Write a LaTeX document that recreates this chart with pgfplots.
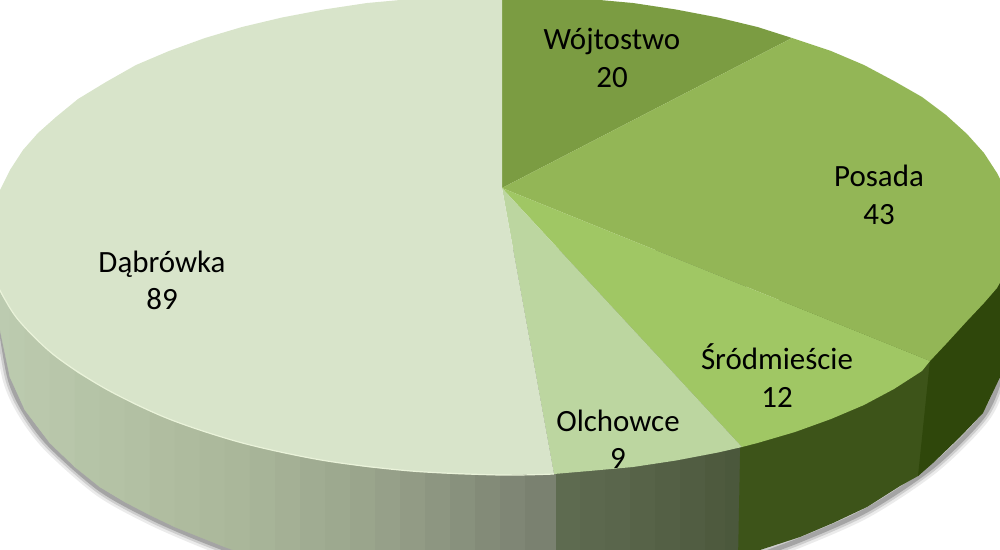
\documentclass[border=0pt]{standalone}
\usepackage{pgfplots}
\pgfplotsset{compat=1.18}
\usepackage{fontspec}
\setmainfont{Carlito}
\newcommand{\strip}[7]{\addplot[fill={rgb,255:red,#5;green,#6;blue,#7},draw={rgb,255:red,#5;green,#6;blue,#7},line width=0.3pt] coordinates {(#1,250) (#3,250) (#3,#4) (#1,#2)} -- cycle;}
\definecolor{cDab}{RGB}{216,228,202}
\definecolor{cOlc}{RGB}{188,214,160}
\definecolor{cSro}{RGB}{160,199,100}
\definecolor{cPos}{RGB}{147,182,86}
\definecolor{cWoj}{RGB}{123,156,66}
\definecolor{cSideS}{RGB}{61,84,25}
\definecolor{cSideP}{RGB}{47,71,11}
\begin{document}
\begin{tikzpicture}
\useasboundingbox (0,0) rectangle (750pt,412.5pt);
\begin{axis}[at={(0,0)},anchor=south west,scale only axis,width=750pt,height=412.5pt,
  xmin=0,xmax=1000,ymin=0,ymax=550,y dir=reverse,hide axis,clip=true]
% shadow under the side
\addplot[smooth,black,line width=11pt,opacity=0.08] coordinates {(-2,300) (0,322) (10,379) (25,412) (50,445) (100,489) (150,517) (200,539) (260,562)};
\addplot[smooth,black,line width=11pt,opacity=0.08] coordinates {(1006,340) (1001,375) (983,416) (933,466) (867,510) (800,540) (740,562)};
\addplot[smooth,black,line width=7pt,opacity=0.13] coordinates {(-2,300) (0,322) (10,379) (25,412) (50,445) (100,489) (150,517) (200,539) (260,562)};
\addplot[smooth,black,line width=7pt,opacity=0.13] coordinates {(1006,340) (1001,375) (983,416) (933,466) (867,510) (800,540) (740,562)};
\addplot[smooth,black,line width=3.5pt,opacity=0.2] coordinates {(-2,300) (0,322) (10,379) (25,412) (50,445) (100,489) (150,517) (200,539) (260,562)};
\addplot[smooth,black,line width=3.5pt,opacity=0.2] coordinates {(1006,340) (1001,375) (983,416) (933,466) (867,510) (800,540) (740,562)};
% side of Dabrowka
\strip{-2}{320}{10}{377}{188}{203}{176}
\strip{10}{377}{25}{410}{187}{202}{174}
\strip{25}{410}{50}{443}{186}{200}{172}
\strip{50}{443}{75}{467}{184}{198}{170}
\strip{75}{467}{100}{487}{181}{196}{167}
\strip{100}{487}{125}{502}{180}{194}{165}
\strip{125}{502}{150}{515}{178}{192}{163}
\strip{150}{515}{175}{527}{176}{189}{160}
\strip{175}{527}{200}{537}{174}{187}{158}
\strip{200}{537}{225}{547}{172}{185}{156}
\strip{225}{547}{250}{556}{170}{183}{154}
\strip{250}{556}{275}{600}{167}{180}{152}
\strip{275}{600}{300}{600}{164}{176}{149}
\strip{300}{600}{325}{600}{160}{172}{146}
\strip{325}{600}{350}{600}{157}{169}{143}
\strip{350}{600}{375}{600}{154}{165}{140}
\strip{375}{600}{400}{600}{150}{160}{137}
\strip{400}{600}{425}{600}{146}{155}{133}
\strip{425}{600}{450}{600}{141}{150}{129}
\strip{450}{600}{475}{600}{136}{145}{125}
\strip{475}{600}{500}{600}{131}{139}{120}
\strip{500}{600}{525}{600}{127}{134}{117}
\strip{525}{600}{556}{600}{122}{129}{112}
% side of Olchowce
\strip{556}{600}{580}{600}{94}{107}{80}
\strip{580}{600}{605}{600}{92}{104}{78}
\strip{605}{600}{630}{600}{90}{102}{76}
\strip{630}{600}{655}{600}{87}{99}{72}
\strip{655}{600}{680}{600}{84}{96}{69}
\strip{680}{600}{705}{600}{81}{93}{66}
\strip{705}{600}{725}{600}{78}{90}{62}
\strip{725}{600}{745}{600}{75}{88}{60}
% side of Srodmiescie and Posada
\addplot[fill=cSideS,draw=none] coordinates {(743,300) (935,300) (935,460) (918,476) (900,486) (867,507) (833,523) (800,537) (760,550) (738,560)} -- cycle;
\addplot[fill=cSideP,draw=none] coordinates {(932,250) (1010,250) (1006,330) (1002,373) (983,413) (960,437) (933,463) (918,476) (930,360)} -- cycle;
% top face
\addplot[fill=cWoj,draw=none] coordinates {(502,188) (502,-5) (545,-4) (589,-1) (633,3) (676,9.5) (718,17.5) (757.5,27) (792,38)} -- cycle;
\addplot[fill=cPos,draw=none] coordinates {(502,188) (792,38) (831,51) (864,65) (894,81) (922,97) (946,115) (967,134) (984,153) (997,173) (1007,193) (1013,214) (1015,235) (1012,250) (1007,270) (997,288) (984,303) (967,321) (946,344) (930,361)} -- cycle;
\addplot[fill=cSro,draw=none] coordinates {(502,188) (930,361) (922,371) (894,389) (864,405) (831,419) (795,432) (757.5,443) (742,447)} -- cycle;
\addplot[fill=cOlc,draw=none] coordinates {(502,188) (742,447) (718,452.5) (676,460.5) (633,467) (589,471) (554,474)} -- cycle;
\addplot[fill=cDab,draw=none] coordinates {(502,188) (554,474) (545,474) (500,475) (455,474) (411,471) (367,467) (324,460.5) (282,452.5) (242.5,443) (205,432) (169,419) (136,405) (106,389) (78,373) (54,355) (33,336) (16,317) (3,297) (-7,277) (-13,256) (-15,235) (-13,214) (-5,203) (0,190) (10,170) (23,150) (38,133) (56,117) (78,99) (106,82) (136,65) (169,51) (205,38) (242,27) (282,17.5) (324,9.5) (367,3) (411,-1) (455,-4) (502,-5)} -- cycle;
% light lip on the front edge
\addplot[smooth,draw={rgb,255:red,234;green,243;blue,218},line width=0.9pt] coordinates {(554,474) (500,475) (411,471) (324,460.5) (242.5,443) (169,419) (106,389) (54,355) (16,317) (-7,277)};
\node[anchor=base,inner sep=0pt,font=\fontsize{23.2}{27}\selectfont] at (axis cs:612,49) {Wójtostwo};
\node[anchor=base,inner sep=0pt,font=\fontsize{23.2}{27}\selectfont] at (axis cs:612,87) {20};
\node[anchor=base,inner sep=0pt,font=\fontsize{23.2}{27}\selectfont] at (axis cs:879,186) {Posada};
\node[anchor=base,inner sep=0pt,font=\fontsize{23.2}{27}\selectfont] at (axis cs:879,224) {43};
\node[anchor=base,inner sep=0pt,font=\fontsize{23.2}{27}\selectfont] at (axis cs:777,369) {Śródmieście};
\node[anchor=base,inner sep=0pt,font=\fontsize{23.2}{27}\selectfont] at (axis cs:777,407) {12};
\node[anchor=base,inner sep=0pt,font=\fontsize{23.2}{27}\selectfont] at (axis cs:618,431) {Olchowce};
\node[anchor=base,inner sep=0pt,font=\fontsize{23.2}{27}\selectfont] at (axis cs:618,468) {9};
\node[anchor=base,inner sep=0pt,font=\fontsize{23.2}{27}\selectfont] at (axis cs:162,272) {Dąbrówka};
\node[anchor=base,inner sep=0pt,font=\fontsize{23.2}{27}\selectfont] at (axis cs:162,309) {89};
\end{axis}
\end{tikzpicture}
\end{document}
